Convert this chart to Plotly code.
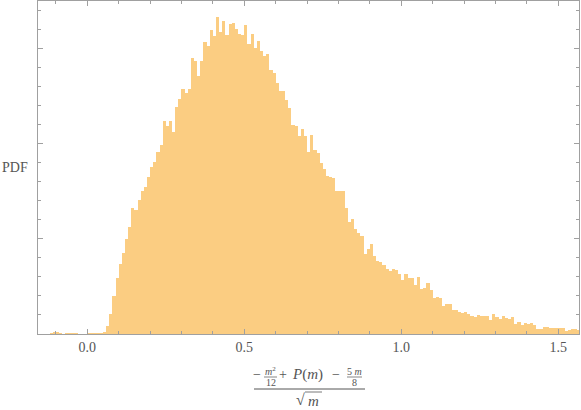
import plotly.graph_objects as go

# histogram: bins of width 0.01 starting at -0.12, values are PDF heights
BIN_START = -0.12
BIN_WIDTH = 0.01
PDF = [
    0.004, 0.009, 0.008, 0.004, 0.0, 0.002, 0.003, 0.002, 0.002, 0.0, 0.0, 0.0,
    0.002, 0.003, 0.003, 0.003, 0.005, 0.008, 0.040, 0.103, 0.201, 0.296,
    0.366, 0.424, 0.497, 0.560, 0.660, 0.654, 0.702, 0.749, 0.775, 0.827,
    0.880, 0.906, 0.958, 0.995, 1.120, 1.094, 1.120, 1.063, 1.194, 1.236,
    1.288, 1.267, 1.288, 1.450, 1.435, 1.356, 1.435, 1.534, 1.513, 1.597,
    1.565, 1.665, 1.586, 1.644, 1.571, 1.628, 1.634, 1.602, 1.576, 1.571,
    1.623, 1.524, 1.576, 1.503, 1.539, 1.487, 1.461, 1.471, 1.387, 1.372,
    1.319, 1.277, 1.277, 1.230, 1.188, 1.099, 1.094, 1.042, 1.079, 1.042,
    0.958, 1.047, 0.969, 0.953, 0.901, 0.869, 0.832, 0.827, 0.822, 0.754,
    0.749, 0.754, 0.660, 0.586, 0.602, 0.550, 0.529, 0.513, 0.419, 0.445,
    0.471, 0.408, 0.382, 0.377, 0.361, 0.340, 0.330, 0.340, 0.335, 0.314,
    0.283, 0.314, 0.293, 0.293, 0.257, 0.298, 0.236, 0.241, 0.267, 0.230,
    0.188, 0.194, 0.188, 0.147, 0.157, 0.157, 0.126, 0.126, 0.115, 0.110,
    0.115, 0.105, 0.094, 0.089, 0.099, 0.094, 0.094, 0.094, 0.073, 0.105,
    0.089, 0.079, 0.094, 0.084, 0.079, 0.089, 0.052, 0.063, 0.047, 0.058,
    0.052, 0.058, 0.047, 0.026, 0.026, 0.037, 0.037, 0.031, 0.031, 0.031,
    0.031, 0.031, 0.016, 0.021, 0.026, 0.026, 0.021,
]
X_TICKS = [0.0, 0.5, 1.0, 1.5]
X_TICK_TEXT = ["0.0", "0.5", "1.0", "1.5"]

centers = [BIN_START + BIN_WIDTH * (i + 0.5) for i in range(len(PDF))]

FRAME = "#a0a0a0"
TXT = "#555555"
SERIF = "Liberation Serif, Times New Roman, serif"

W, H = 581, 410
L, R, T, B = 38, 2, 1, 76


def px(x):
    return (x - L) / (W - L - R)


def py(y):
    return (H - B - y) / (H - T - B)


fig = go.Figure(go.Bar(
    x=centers, y=PDF, width=BIN_WIDTH,
    marker=dict(color="#fbcd82", line=dict(width=0)),
    hoverinfo="skip",
))

fig.update_layout(
    template="none",
    width=W, height=H, autosize=False,
    margin=dict(l=L, r=R, t=T, b=B, pad=0),
    plot_bgcolor="white", paper_bgcolor="white",
    bargap=0, showlegend=False,
    font=dict(family=SERIF, size=14, color=TXT),
    xaxis=dict(
        range=[-0.157, 1.566], automargin=False,
        tickvals=X_TICKS, ticktext=X_TICK_TEXT,
        ticks="inside", ticklen=5, tickcolor=FRAME, tickwidth=1,
        minor=dict(dtick=0.1, tick0=0, ticks="inside", ticklen=3, tickcolor=FRAME),
        showline=True, linecolor=FRAME, linewidth=1, mirror="ticks",
        showgrid=False, zeroline=False,
        tickfont=dict(family=SERIF, size=14, color=TXT),
    ),
    yaxis=dict(
        range=[0, 1.75], automargin=False,
        tick0=0, dtick=0.5, showticklabels=False,
        ticks="inside", ticklen=5, tickcolor=FRAME, tickwidth=1,
        minor=dict(dtick=0.1, tick0=0, ticks="inside", ticklen=3, tickcolor=FRAME),
        showline=True, linecolor=FRAME, linewidth=1, mirror="ticks",
        showgrid=False, zeroline=False,
    ),
)

# y label, horizontal like Mathematica
fig.add_annotation(text="PDF", xref="paper", yref="paper", x=px(0), y=0.5,
                   xanchor="left", yanchor="middle", showarrow=False,
                   font=dict(size=14, color=TXT))


def txt(s, x, y, size=14, anchor="center"):
    fig.add_annotation(text=s, xref="paper", yref="paper", x=px(x), y=py(y),
                       xanchor=anchor, yanchor="middle", showarrow=False,
                       font=dict(size=size, color=TXT, family=SERIF))


def hline(x0, x1, y, w=1):
    fig.add_shape(type="line", xref="paper", yref="paper",
                  x0=px(x0), x1=px(x1), y0=py(y), y1=py(y),
                  line=dict(color=TXT, width=w))


# axis label: (-m^2/12 + P(m) - 5m/8) / sqrt(m)
txt("\u2212", 257, 374, 14)
txt("<i>m</i><sup>2</sup>", 270, 371, 10)
hline(264, 277, 377, 0.7)
txt("12", 270.5, 382, 10)
txt("+", 283, 374, 14)
txt("<i>P</i>(<i>m</i>)", 307, 374, 15)
txt("\u2212", 336, 374, 14)
txt("5 <i>m</i>", 354.5, 371, 10)
hline(347, 362, 377, 0.7)
txt("8", 354.5, 382, 10)
hline(254, 365, 389, 1)
txt("\u221a", 300, 399, 16)
hline(305, 322, 392, 0.8)
txt("<i>m</i>", 313.5, 401, 15)

# drop the default page margin so the figure sits at the window's corner
fig.write_html("out.html", config={"displayModeBar": False},
               post_script="document.body.style.margin='0';"
               "document.body.style.overflow='hidden';")
